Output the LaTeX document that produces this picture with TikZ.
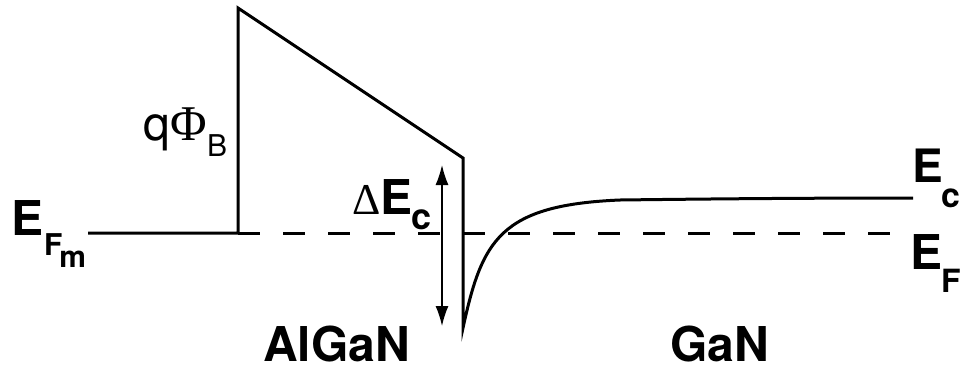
\documentclass[tikz,border=0pt]{standalone}
\usepackage{fontspec}
\setmainfont{TeX Gyre Heros}
\newfontfamily\greekfont{Liberation Serif}
\usetikzlibrary{arrows.meta}
\tikzset{
  band/.style={line width=3pt, line join=miter},
  fermi/.style={line width=3pt, dash pattern=on 22pt off 23pt},
  lbl/.style={inner sep=0pt, outer sep=0pt, anchor=base west},
  dbl/.style={line width=1.5pt, {Latex[length=20pt,width=13pt]}-{Latex[length=20pt,width=13pt]}}
}
\newcommand{\fsz}[1]{\fontsize{#1}{#1}\selectfont}
\begin{document}
\begin{tikzpicture}[x=1pt,y=-1pt]
\useasboundingbox (0,0) rectangle (964,370);
% coordinates
\coordinate (mL) at (88,233);
\coordinate (bB) at (238,233);
\coordinate (bT) at (238,8);
\coordinate (sE) at (463,158);
\coordinate (sB) at (463,328);
\coordinate (cM) at (620,200);
\coordinate (cR) at (913,198);
\coordinate (fR) at (895,233);
\coordinate (aT) at (442,165);
\coordinate (aB) at (442,326);
% metal Fermi level and barrier
\draw[band] (mL) -- (bB) -- (bT) -- (sE) -- (sB)
  .. controls (482,240) and (500,205) .. (cM)
  .. controls (700,199) and (800,198) .. (cR);
% Fermi level dashed
\draw[fermi] (bB) -- (fR);
% Delta Ec arrow
\draw[dbl] (aT) -- (aB);
% labels
\node[lbl] (efm) at (12,235) {\fsz{48}\bfseries E\raisebox{-20pt}{\fsz{30}F\kern-3pt\raisebox{-12pt}{m}}};
\node[lbl] (qphi) at (143,140) {\fsz{48}q\kern1pt{\greekfont\fsz{50}Φ}\raisebox{-16pt}{\fsz{30}B}};
\node[lbl] (dec) at (352,214) {{\greekfont\fsz{44}Δ}\bfseries\fsz{48}E\kern-1pt\raisebox{-15pt}{\fsz{36}c}};
\node[lbl] (ec) at (912,182) {\fsz{46}\bfseries E\kern-1pt\raisebox{-25pt}{\fsz{34}c}};
\node[lbl] (ef) at (910,269) {\fsz{48}\bfseries E\kern-1pt\raisebox{-23pt}{\fsz{32}F}};
\node[lbl, text depth=0pt] (algan) at (263,361) {\fsz{48}\bfseries AlGaN};
\node[lbl, text depth=0pt] (gan) at (670,361) {\fsz{48}\bfseries GaN};
\end{tikzpicture}
\end{document}
